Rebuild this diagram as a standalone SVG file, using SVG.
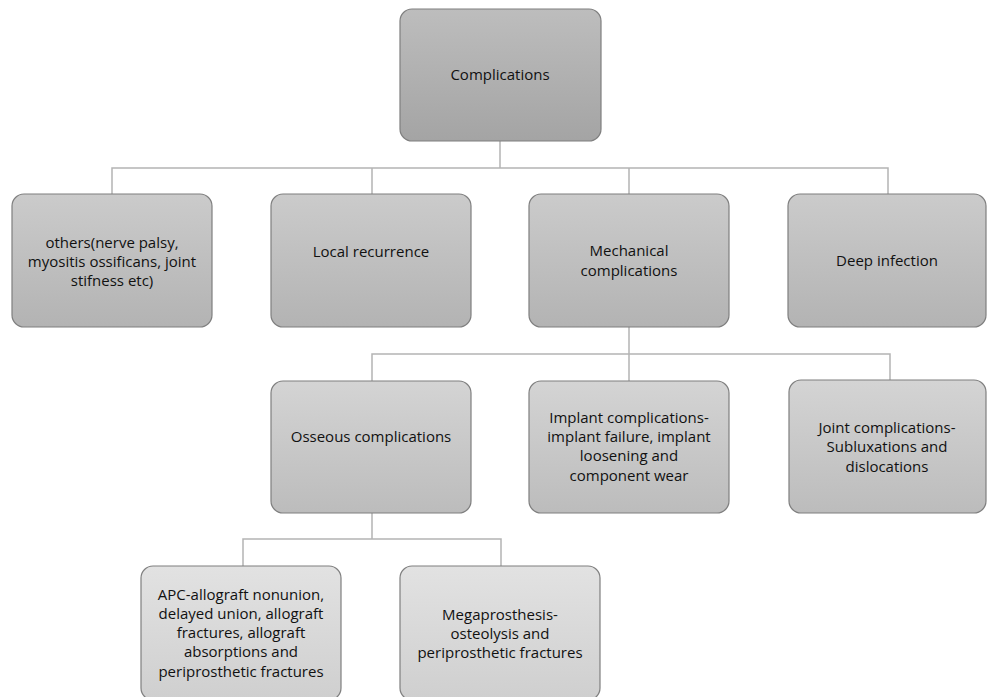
<svg xmlns="http://www.w3.org/2000/svg" width="987" height="697" viewBox="0 0 987 697">
<defs>
<linearGradient id="g0" x1="0" y1="0" x2="0" y2="1"><stop offset="0" stop-color="#bdbdbd"/><stop offset="1" stop-color="#a4a4a4"/></linearGradient>
<linearGradient id="g1" x1="0" y1="0" x2="0" y2="1"><stop offset="0" stop-color="#cbcbcb"/><stop offset="1" stop-color="#b3b3b3"/></linearGradient>
<linearGradient id="g2" x1="0" y1="0" x2="0" y2="1"><stop offset="0" stop-color="#d4d4d4"/><stop offset="1" stop-color="#bcbcbc"/></linearGradient>
<linearGradient id="g3" x1="0" y1="0" x2="0" y2="1"><stop offset="0" stop-color="#e2e2e2"/><stop offset="1" stop-color="#cfcfcf"/></linearGradient>
</defs>
<style>
rect{stroke:#7f7f7f;stroke-width:1.2}
text{font-family:"Open Sans","Noto Sans","DejaVu Sans",sans-serif;font-size:15px;fill:#111;text-anchor:middle}
.c{stroke:#b4b4b4;stroke-width:1.5;fill:none}
</style>
<g id="connectors">
<path class="c" d="M500 141V168M112 194V168H888V194M372 168V194M629 168V194"/>
<path class="c" d="M629 327V354M372 381V354H890V380M629 354V381"/>
<path class="c" d="M372 513V539M243 566V539H501V566"/>
</g>
<g id="n-complications"><rect x="400" y="9" width="201" height="132" rx="12" fill="url(#g0)"/><text x="500" y="80">Complications</text></g>
<g id="n-others"><rect x="12" y="194" width="200" height="133" rx="12" fill="url(#g1)"/><text x="112" y="248">others(nerve palsy,</text><text x="112" y="267">myositis ossificans, joint</text><text x="112" y="286">stifness etc)</text></g>
<g id="n-local"><rect x="271" y="194" width="200" height="133" rx="12" fill="url(#g1)"/><text x="371" y="257">Local recurrence</text></g>
<g id="n-mechanical"><rect x="529" y="194" width="200" height="133" rx="12" fill="url(#g1)"/><text x="629" y="256">Mechanical</text><text x="629" y="276">complications</text></g>
<g id="n-deep"><rect x="788" y="194" width="198" height="133" rx="12" fill="url(#g1)"/><text x="887" y="266">Deep infection</text></g>
<g id="n-osseous"><rect x="271" y="381" width="200" height="132" rx="12" fill="url(#g2)"/><text x="371" y="442">Osseous complications</text></g>
<g id="n-implant"><rect x="529" y="381" width="200" height="132" rx="12" fill="url(#g2)"/><text x="629" y="423">Implant complications-</text><text x="629" y="442">implant failure, implant</text><text x="629" y="461">loosening and</text><text x="629" y="481">component wear</text></g>
<g id="n-joint"><rect x="789" y="380" width="197" height="133" rx="12" fill="url(#g2)"/><text x="887" y="433">Joint complications-</text><text x="887" y="452">Subluxations and</text><text x="887" y="472">dislocations</text></g>
<g id="n-apc"><rect x="141" y="566" width="200" height="134" rx="12" fill="url(#g3)"/><text x="241" y="600">APC-allograft nonunion,</text><text x="241" y="619">delayed union, allograft</text><text x="241" y="638">fractures, allograft</text><text x="241" y="657">absorptions and</text><text x="241" y="677">periprosthetic fractures</text></g>
<g id="n-mega"><rect x="400" y="566" width="200" height="134" rx="12" fill="url(#g3)"/><text x="500" y="620">Megaprosthesis-</text><text x="500" y="639">osteolysis and</text><text x="500" y="658">periprosthetic fractures</text></g>
</svg>
